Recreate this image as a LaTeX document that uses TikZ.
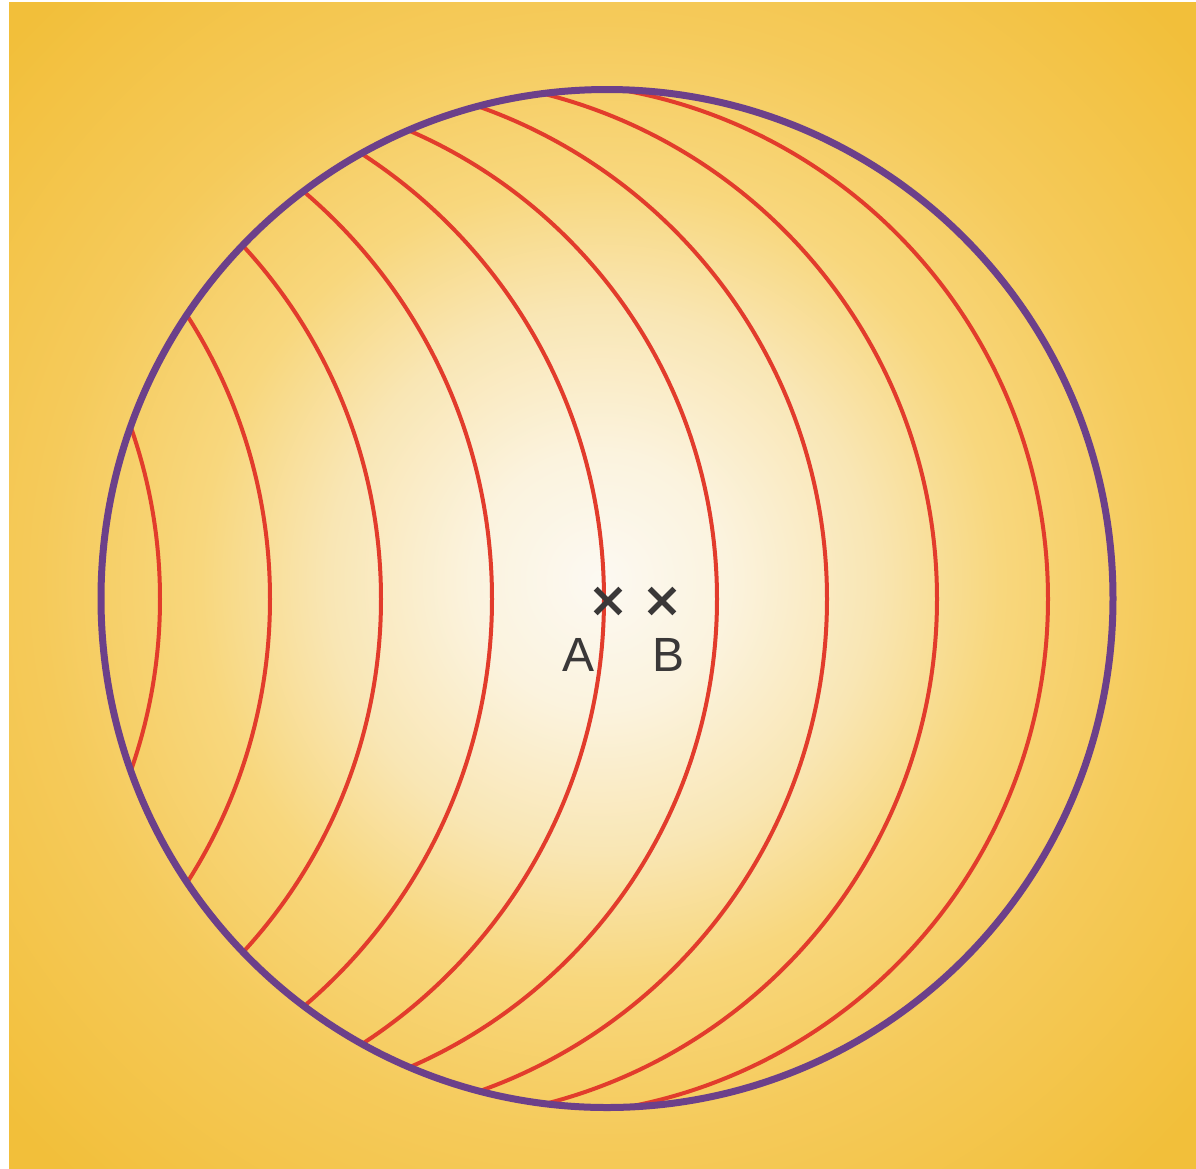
\documentclass[tikz,border=0pt]{standalone}
\usepackage{fontspec}
\usetikzlibrary{shapes.misc}
\newfontfamily\labfont{Liberation Sans}
\definecolor{g0}{RGB}{252,249,242}
\definecolor{g1}{RGB}{251,243,222}
\definecolor{g2}{RGB}{249,230,180}
\definecolor{g3}{RGB}{248,215,125}
\definecolor{g4}{RGB}{245,202,90}
\definecolor{g5}{RGB}{242,191,58}
\definecolor{rimcol}{RGB}{108,64,138}
\definecolor{wavecol}{RGB}{226,60,44}
\definecolor{markcol}{RGB}{58,56,56}
\pgfdeclareradialshading{glow}{\pgfpoint{0bp}{0bp}}{color(0bp)=(g0); color(4bp)=(g1); color(8.5bp)=(g2); color(12.5bp)=(g3); color(17.5bp)=(g4); color(25bp)=(g5); color(50bp)=(g5)}
\begin{document}
\begin{tikzpicture}[x=0.5pt,y=-0.5pt,
  rim/.style={draw=rimcol, line width=3.5pt},
  wave/.style={draw=wavecol, line width=2pt},
  crossmark/.style={draw=markcol, cross out, line width=2.8pt, minimum size=9.5pt, inner sep=0pt},
  lab/.style={text=markcol, font=\labfont\fontsize{24}{28}\selectfont, inner sep=0pt}]
\useasboundingbox (0,0) rectangle (1196,1169);
\fill[white] (0,0) rectangle (1196,1169);
\begin{scope}
  \clip (9,2) rectangle (1196,1169);
  \shade[shading=glow] (-200,-220) rectangle (1400,1380);
\end{scope}
\begin{scope}
  \clip (607,598.5) ellipse [x radius=506, y radius=509];
  \foreach \a/\r in {160/518, 270/526, 381/521, 492/535, 604/530, 717/510, 827/522, 937/521, 1048/517}
    \draw[wave] (\a-\r,599) circle [radius=\r];
\end{scope}
\draw[rim] (607,598.5) ellipse [x radius=506, y radius=509];
\node[crossmark] (A) at (608,601) {};
\node[crossmark] (B) at (662,601) {};
\node[lab] (labA) at (579,655) {A};
\node[lab] (labB) at (669,655) {B};
\end{tikzpicture}
\end{document}
